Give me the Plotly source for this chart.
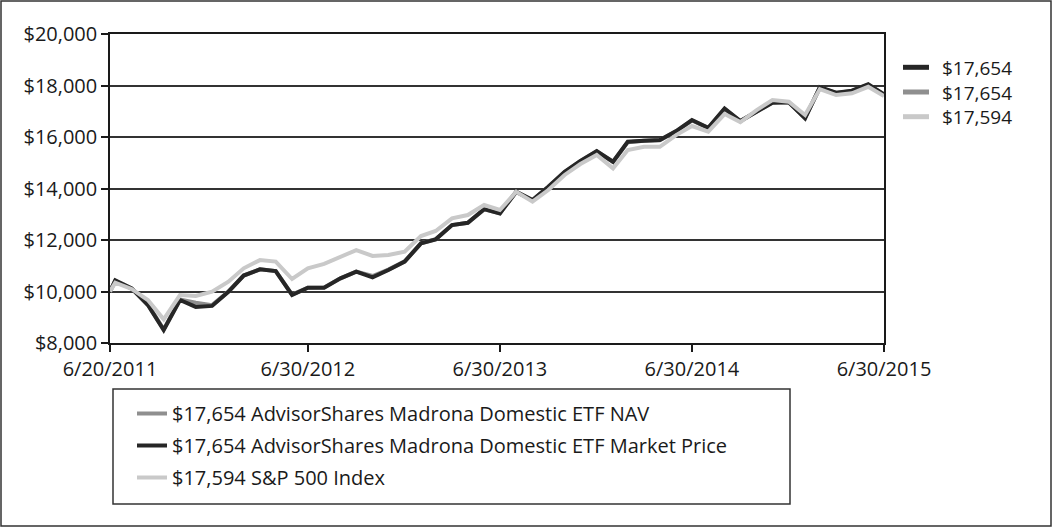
import calendar
import plotly.graph_objects as go

# ---- data ----
dates = ["2011-06-20"] + [
    f"{y}-{m:02d}-{calendar.monthrange(y, m)[1]:02d}"
    for y in range(2011, 2016) for m in range(1, 13)
    if (y, m) >= (2011, 6) and (y, m) <= (2015, 6)
]

market = [10000, 10430, 10120, 9475, 8505, 9670, 9400, 9440, 9990, 10620,
          10860, 10795, 9865, 10150, 10150, 10510, 10770, 10550, 10835, 11160,
          11870, 12025, 12580, 12670, 13200, 13035, 13875, 13550, 14070, 14650,
          15070, 15455, 15040, 15815, 15855, 15880, 16230, 16660, 16360, 17110,
          16620, 16980, 17330, 17350, 16725, 17930, 17720, 17800, 18045, 17654]

nav = [10000, 10430, 10120, 9500, 8530, 9690, 9560, 9470, 10000, 10620,
       10860, 10795, 9880, 10150, 10160, 10510, 10770, 10600, 10850, 11170,
       11870, 12030, 12580, 12670, 13190, 13040, 13870, 13550, 14060, 14640,
       15060, 15440, 15030, 15800, 15850, 15870, 16220, 16640, 16350, 17090,
       16620, 16990, 17340, 17350, 16740, 17920, 17710, 17790, 18030, 17654]

sp500 = [10000, 10340, 10100, 9670, 8920, 9860, 9825, 9990, 10380, 10900,
         11220, 11160, 10485, 10900, 11070, 11330, 11610, 11380, 11415, 11545,
         12155, 12350, 12840, 12970, 13360, 13165, 13875, 13490, 13940, 14525,
         14950, 15300, 14780, 15495, 15620, 15620, 16075, 16425, 16205, 16890,
         16580, 17045, 17435, 17370, 16855, 17860, 17630, 17695, 17950, 17594]

x_tickvals = ["2011-06-20", "2012-06-30", "2013-06-30", "2014-06-30", "2015-06-30"]
x_ticktext = ["6/20/2011", "6/30/2012", "6/30/2013", "6/30/2014", "6/30/2015"]
y_ticks = [8000, 10000, 12000, 14000, 16000, 18000, 20000]

names = {
    "nav": "AdvisorShares Madrona Domestic ETF NAV",
    "market": "AdvisorShares Madrona Domestic ETF Market Price",
    "sp": "S&P 500 Index",
}

C_MARKET = "#262626"
C_NAV = "#8f8f8f"
C_SP = "#c9c9c9"
TXT = "#1a1a1a"
FONT = "Open Sans"
LW = 4

fig = go.Figure()

series = [
    ("nav", nav, C_NAV, 1),
    ("market", market, C_MARKET, 2),
    ("sp", sp500, C_SP, 3),
]
for key, vals, col, rank in series:
    fig.add_trace(go.Scatter(
        x=dates, y=vals, mode="lines",
        line=dict(color=col, width=LW),
        name=f"${vals[-1]:,} {names[key]}",
        legendgroup=key, legendrank=rank,
    ))

L, R, T, B = 110, 168, 34, 184
W, H = 1052, 527
pw, ph = W - L - R, H - T - B

def px(xp):
    return (xp - L) / pw

def py(yp):
    return (H - B - yp) / ph

shapes = [
    dict(type="rect", xref="paper", yref="paper",
         x0=px(1), x1=px(1051), y0=py(526), y1=py(1),
         line=dict(color="#333333", width=1.5), fillcolor="rgba(0,0,0,0)",
         layer="below"),
    dict(type="rect", xref="paper", yref="paper",
         x0=px(113), x1=px(790), y0=py(504), y1=py(389),
         line=dict(color="#333333", width=1.5), fillcolor="rgba(0,0,0,0)",
         layer="below"),
]

# right-side end-value key (one multi-line text block, samples beside each line)
KEY_FS = 19
key_line_h = KEY_FS * 1.3
key_mid = 92
key_items = [(market, C_MARKET), (nav, C_NAV), (sp500, C_SP)]
for i, (vals, col) in enumerate(key_items):
    yc = key_mid + (i - 1) * key_line_h
    shapes.append(dict(type="line", xref="paper", yref="paper",
                       x0=px(903), x1=px(929), y0=py(yc), y1=py(yc),
                       line=dict(color=col, width=5)))
annotations = [dict(
    xref="paper", yref="paper", x=px(940), y=py(key_mid),
    xanchor="left", yanchor="middle", align="left", showarrow=False,
    text="<br>".join(f"${vals[-1]:,}" for vals, _ in key_items),
    font=dict(family=FONT, size=KEY_FS, color=TXT),
)]

fig.update_layout(
    width=W, height=H,
    margin=dict(l=L, r=R, t=T, b=B),
    paper_bgcolor="white", plot_bgcolor="white",
    font=dict(family=FONT, size=20, color=TXT),
    showlegend=True,
    legend=dict(
        x=px(132), y=py(394), xanchor="left", yanchor="top",
        bgcolor="rgba(0,0,0,0)", borderwidth=0,
        font=dict(family=FONT, size=20, color=TXT),
        traceorder="grouped", tracegroupgap=3,
    ),
    xaxis=dict(
        type="date",
        range=["2011-06-20", "2015-06-30"],
        tickvals=x_tickvals, ticktext=x_ticktext,
        ticks="outside", ticklen=7, tickwidth=1.5, tickcolor=TXT,
        showline=True, linecolor=TXT, linewidth=1.5, mirror=True,
        showgrid=False, zeroline=False,
        tickfont=dict(family=FONT, size=20, color=TXT),
    ),
    yaxis=dict(
        range=[8000, 20000],
        tickvals=y_ticks, ticktext=[f"${v:,}" for v in y_ticks],
        ticks="outside", ticklen=7, tickwidth=1.5, tickcolor=TXT,
        showline=True, linecolor=TXT, linewidth=1.5, mirror=True,
        showgrid=True, gridcolor="#333333", gridwidth=1.5, zeroline=False,
        tickfont=dict(family=FONT, size=20, color=TXT),
    ),
    shapes=shapes,
    annotations=annotations,
)

fig.write_html("out.html", config={"displayModeBar": False},
               post_script="document.body.style.margin='0px';")
